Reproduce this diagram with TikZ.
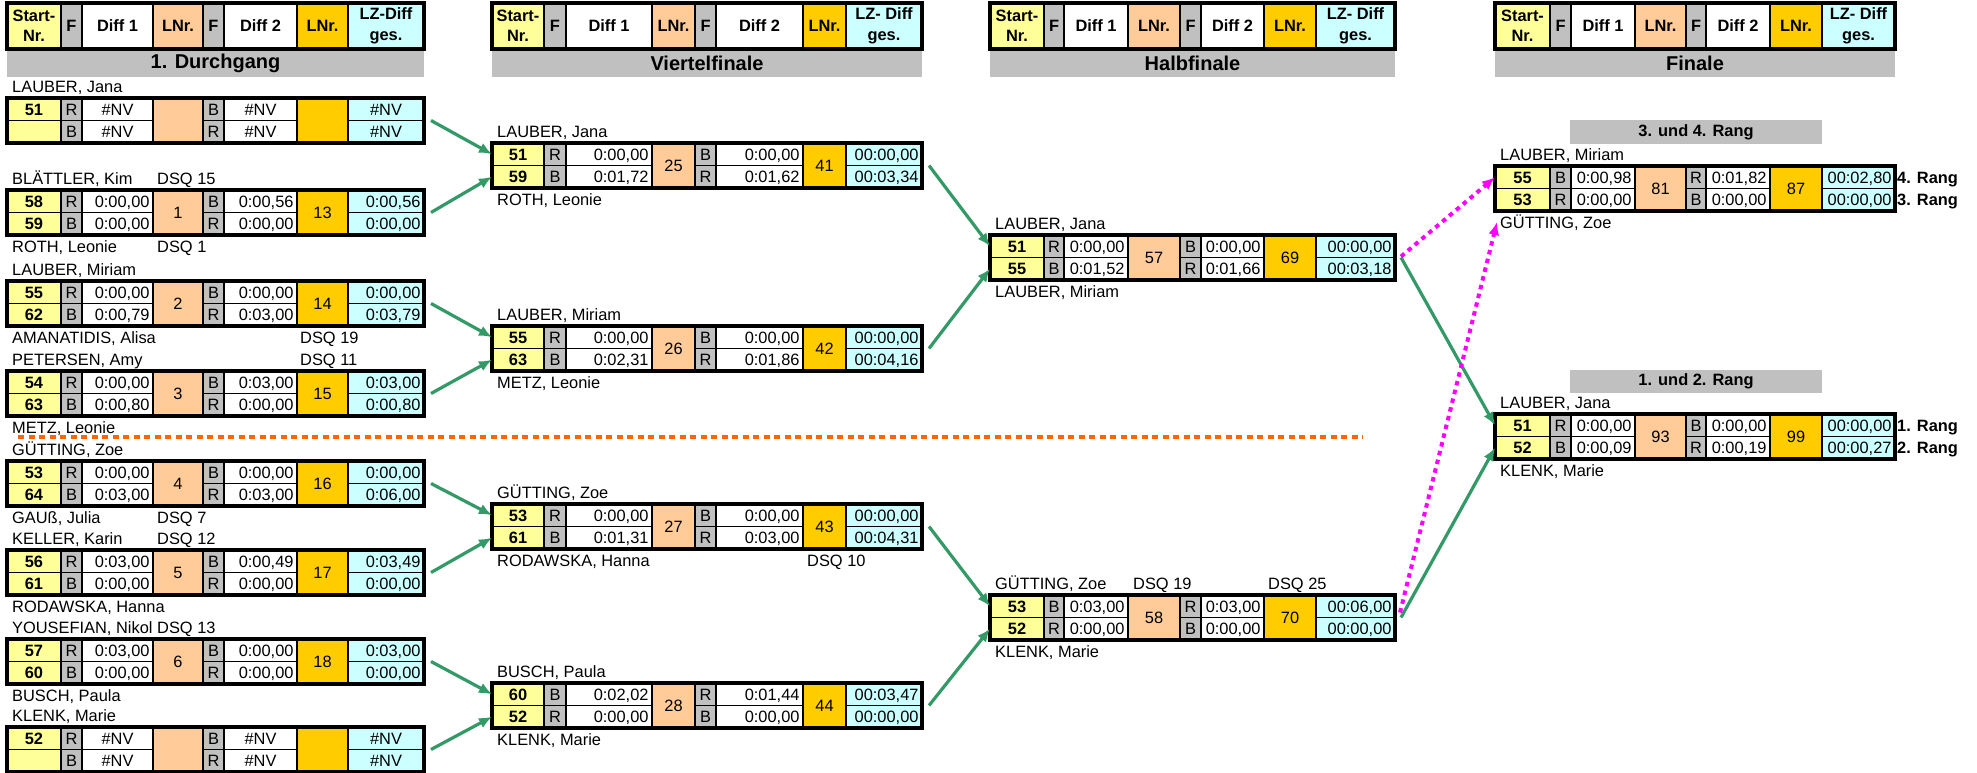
\documentclass[tikz,border=0pt]{standalone}
\usepackage{fontspec}
\setmainfont{Liberation Sans}
\usetikzlibrary{calc}
\usetikzlibrary{arrows.meta}

\definecolor{startyel}{HTML}{FFFF99}
\definecolor{fgray}{HTML}{C0C0C0}
\definecolor{lnrpeach}{HTML}{FFCC99}
\definecolor{lnrgold}{HTML}{FFCC00}
\definecolor{lzcyan}{HTML}{CCFFFF}
\definecolor{advgreen}{HTML}{339966}
\definecolor{losemag}{HTML}{FF00FF}
\definecolor{halforange}{HTML}{FF6600}

\newcommand{\fsz}{\fontsize{16.4}{20.5}\selectfont}

\tikzset{
  cellbox/.style={draw=black,line width=1.8pt,inner sep=0pt,outer sep=0pt},
  cv/.style={font=\fsz,text height=11.7pt,text depth=0pt},
  headcell/.style={font=\fsz\bfseries,align=center},
  rt/.style={text width=\tw pt,align=right},
  ctr/.style={},
  blockframe/.style={draw=black,line width=3.6pt,inner sep=0pt,outer sep=0pt},
  band/.style={fill=fgray,inner sep=0pt,outer sep=0pt,font=\fontsize{20}{24}\selectfont\bfseries},
  tx/.style={inner sep=0pt,font=\fsz,text height=11.7pt,text depth=0pt,anchor=west},
  dsq/.style={tx,fill=white},
  adv/.style={draw=advgreen,line width=3.2pt,-{Latex[length=13pt,width=11pt]}},
  lose/.style={draw=losemag,line width=4pt,dash pattern=on 4.5pt off 4.5pt,-{Latex[length=13pt,width=11pt]}},
  halfline/.style={draw=halforange,line width=4.2pt,dash pattern=on 6pt off 4.5pt},
}

% column edges of one round
\newcommand{\setcols}[9]{\def\xa{#1}\def\xb{#2}\def\xc{#3}\def\xd{#4}\def\xe{#5}\def\xf{#6}\def\xg{#7}\def\xh{#8}\def\xi{#9}}

% name, x1, x2, y1, y2, style, text
\newcommand{\cellat}[7]{%
  \pgfmathsetmacro\cw{#3-#2}\pgfmathsetmacro\ch{#5-#4}\pgfmathsetmacro\tw{#3-#2-7}%
  \node[cellbox,minimum width=\cw pt,minimum height=\ch pt,#6] (#1) at ({(#2+#3)/2},{(#4+#5)/2}) {#7};}

% name, band text, last column text
\newcommand{\headrow}[3]{%
  \pgfmathsetmacro\fw{\xi-\xa}%
  \node[band,minimum width=\fw pt,minimum height=28pt,anchor=north west] (#1-band) at (\xa,49) {#2};
  \cellat{#1-c1}{\xa}{\xb}{3}{49}{headcell,fill=startyel}{Start-\\Nr.}
  \cellat{#1-c2}{\xb}{\xc}{3}{49}{headcell,fill=fgray}{F}
  \cellat{#1-c3}{\xc}{\xd}{3}{49}{headcell,fill=white}{Diff 1}
  \cellat{#1-c4}{\xd}{\xe}{3}{49}{headcell,fill=lnrpeach}{LNr.}
  \cellat{#1-c5}{\xe}{\xf}{3}{49}{headcell,fill=fgray}{F}
  \cellat{#1-c6}{\xf}{\xg}{3}{49}{headcell,fill=white}{Diff 2}
  \cellat{#1-c7}{\xg}{\xh}{3}{49}{headcell,fill=lnrgold}{LNr.}
  \cellat{#1-c8}{\xh}{\xi}{3}{49}{headcell,fill=lzcyan}{#3}
  \node[blockframe,minimum width=\fw pt,minimum height=46pt,anchor=north west] (#1) at (\xa,3) {};}

% name, top, F first, F second, start 1, start 2, LNr 1, LNr 2
\newcommand{\bout}[8]{%
  \def\btop{#2}\pgfmathsetmacro\ym{#2+22.5}\pgfmathsetmacro\yb{#2+45}%
  \cellat{#1-s1}{\xa}{\xb}{#2}{\ym}{cv,fill=startyel,font=\fsz\bfseries}{#5}
  \cellat{#1-s2}{\xa}{\xb}{\ym}{\yb}{cv,fill=startyel,font=\fsz\bfseries}{#6}
  \cellat{#1-fa}{\xb}{\xc}{#2}{\ym}{cv,fill=fgray}{#3}
  \cellat{#1-fb}{\xb}{\xc}{\ym}{\yb}{cv,fill=fgray}{#4}
  \cellat{#1-l1}{\xd}{\xe}{#2}{\yb}{cv,fill=lnrpeach}{#7}
  \cellat{#1-fc}{\xe}{\xf}{#2}{\ym}{cv,fill=fgray}{#4}
  \cellat{#1-fd}{\xe}{\xf}{\ym}{\yb}{cv,fill=fgray}{#3}
  \cellat{#1-l2}{\xg}{\xh}{#2}{\yb}{cv,fill=lnrgold}{#8}}

% name, alignment, diff 1 (two), diff 2 (two), LZ (two)
\newcommand{\bvals}[8]{%
  \cellat{#1-a1}{\xc}{\xd}{\btop}{\ym}{cv,fill=white,#2}{#3}
  \cellat{#1-a2}{\xc}{\xd}{\ym}{\yb}{cv,fill=white,#2}{#4}
  \cellat{#1-b1}{\xf}{\xg}{\btop}{\ym}{cv,fill=white,#2}{#5}
  \cellat{#1-b2}{\xf}{\xg}{\ym}{\yb}{cv,fill=white,#2}{#6}
  \cellat{#1-z1}{\xh}{\xi}{\btop}{\ym}{cv,fill=lzcyan,#2}{#7}
  \cellat{#1-z2}{\xh}{\xi}{\ym}{\yb}{cv,fill=lzcyan,#2}{#8}
  \pgfmathsetmacro\fw{\xi-\xa}%
  \node[blockframe,minimum width=\fw pt,minimum height=45pt,anchor=north west] (#1) at (\xa,\btop) {};}

% name, above, below
\newcommand{\bnames}[3]{%
  \node[tx] (#1-n1) at ([xshift=5pt,yshift=11pt]#1.north west) {#2};
  \if\relax\detokenize{#3}\relax\else
  \node[tx] (#1-n2) at ([xshift=5pt,yshift=-12pt]#1.south west) {#3};\fi}

\begin{document}
\begin{tikzpicture}[x=1pt,y=-1pt]
  \path[use as bounding box,fill=white] (0,0) rectangle (1977,773);

  % 1. Durchgang
  \setcols{7}{61}{82}{153}{203}{224}{297}{348}{424}
  \headrow{hdg}{1. Durchgang}{LZ-Diff\\ges.}
  \bout{d1}{98}{R}{B}{51}{}{}{}
  \bvals{d1}{ctr}{\#NV}{\#NV}{\#NV}{\#NV}{\#NV}{\#NV}
  \bnames{d1}{LAUBER, Jana}{}
  \bout{d2}{190}{R}{B}{58}{59}{1}{13}
  \bvals{d2}{rt}{0:00,00}{0:00,00}{0:00,56}{0:00,00}{0:00,56}{0:00,00}
  \bnames{d2}{BLÄTTLER, Kim}{ROTH, Leonie}
  \node[dsq] (d2-q1) at ([xshift=4pt]d2-l1.west |- d2-n1) {DSQ 15};
  \node[dsq] (d2-q2) at ([xshift=4pt]d2-l1.west |- d2-n2) {DSQ 1};
  \bout{d3}{281}{R}{B}{55}{62}{2}{14}
  \bvals{d3}{rt}{0:00,00}{0:00,79}{0:00,00}{0:03,00}{0:00,00}{0:03,79}
  \bnames{d3}{LAUBER, Miriam}{AMANATIDIS, Alisa}
  \node[dsq] (d3-q2) at ([xshift=3pt]d3-l2.west |- d3-n2) {DSQ 19};
  \bout{d4}{371}{R}{B}{54}{63}{3}{15}
  \bvals{d4}{rt}{0:00,00}{0:00,80}{0:03,00}{0:00,00}{0:03,00}{0:00,80}
  \bnames{d4}{PETERSEN, Amy}{METZ, Leonie}
  \node[dsq] (d4-q1) at ([xshift=3pt]d4-l2.west |- d4-n1) {DSQ 11};
  \bout{d5}{461}{R}{B}{53}{64}{4}{16}
  \bvals{d5}{rt}{0:00,00}{0:03,00}{0:00,00}{0:03,00}{0:00,00}{0:06,00}
  \bnames{d5}{GÜTTING, Zoe}{GAUß, Julia}
  \node[dsq] (d5-q2) at ([xshift=4pt]d5-l1.west |- d5-n2) {DSQ 7};
  \bout{d6}{550}{R}{B}{56}{61}{5}{17}
  \bvals{d6}{rt}{0:03,00}{0:00,00}{0:00,49}{0:00,00}{0:03,49}{0:00,00}
  \bnames{d6}{KELLER, Karin}{RODAWSKA, Hanna}
  \node[dsq] (d6-q1) at ([xshift=4pt]d6-l1.west |- d6-n1) {DSQ 12};
  \bout{d7}{639}{R}{B}{57}{60}{6}{18}
  \bvals{d7}{rt}{0:03,00}{0:00,00}{0:00,00}{0:00,00}{0:03,00}{0:00,00}
  \bnames{d7}{YOUSEFIAN, Nikol}{BUSCH, Paula}
  \node[dsq] (d7-q1) at ([xshift=4pt]d7-l1.west |- d7-n1) {DSQ 13};
  \bout{d8}{727}{R}{B}{52}{}{}{}
  \bvals{d8}{ctr}{\#NV}{\#NV}{\#NV}{\#NV}{\#NV}{\#NV}
  \bnames{d8}{KLENK, Marie}{}

  % Viertelfinale
  \setcols{492}{544}{566}{652}{695}{716}{803}{846}{922}
  \headrow{hvf}{Viertelfinale}{LZ- Diff\\ges.}
  \bout{q1}{143}{R}{B}{51}{59}{25}{41}
  \bvals{q1}{rt}{0:00,00}{0:01,72}{0:00,00}{0:01,62}{00:00,00}{00:03,34}
  \bnames{q1}{LAUBER, Jana}{ROTH, Leonie}
  \bout{q2}{326}{R}{B}{55}{63}{26}{42}
  \bvals{q2}{rt}{0:00,00}{0:02,31}{0:00,00}{0:01,86}{00:00,00}{00:04,16}
  \bnames{q2}{LAUBER, Miriam}{METZ, Leonie}
  \bout{q3}{504}{R}{B}{53}{61}{27}{43}
  \bvals{q3}{rt}{0:00,00}{0:01,31}{0:00,00}{0:03,00}{00:00,00}{00:04,31}
  \bnames{q3}{GÜTTING, Zoe}{RODAWSKA, Hanna}
  \node[dsq] (q3-q2) at ([xshift=4pt]q3-l2.west |- q3-n2) {DSQ 10};
  \bout{q4}{683}{B}{R}{60}{52}{28}{44}
  \bvals{q4}{rt}{0:02,02}{0:00,00}{0:01,44}{0:00,00}{00:03,47}{00:00,00}
  \bnames{q4}{BUSCH, Paula}{KLENK, Marie}

  % Halbfinale
  \setcols{990}{1044}{1064}{1128}{1180}{1201}{1264}{1316}{1395}
  \headrow{hhf}{Halbfinale}{LZ- Diff\\ges.}
  \bout{s1}{235}{R}{B}{51}{55}{57}{69}
  \bvals{s1}{rt}{0:00,00}{0:01,52}{0:00,00}{0:01,66}{00:00,00}{00:03,18}
  \bnames{s1}{LAUBER, Jana}{LAUBER, Miriam}
  \bout{s2}{595}{B}{R}{53}{52}{58}{70}
  \bvals{s2}{rt}{0:03,00}{0:00,00}{0:03,00}{0:00,00}{00:06,00}{00:00,00}
  \bnames{s2}{GÜTTING, Zoe}{KLENK, Marie}
  \node[dsq] (s2-q1) at ([xshift=5pt]s2-l1.west |- s2-n1) {DSQ 19};
  \node[dsq] (s2-q3) at ([xshift=4pt]s2-l2.west |- s2-n1) {DSQ 25};

  % Finale
  \setcols{1495}{1550}{1571}{1635}{1686}{1706}{1770}{1822}{1895}
  \headrow{hfi}{Finale}{LZ- Diff\\ges.}
  \node[band,font=\fsz\bfseries,minimum width=252pt,minimum height=24pt] (f1-band) at (1696,132) {3. und 4. Rang};
  \bout{f1}{166}{B}{R}{55}{53}{81}{87}
  \bvals{f1}{rt}{0:00,98}{0:00,00}{0:01,82}{0:00,00}{00:02,80}{00:00,00}
  \bnames{f1}{LAUBER, Miriam}{GÜTTING, Zoe}
  \node[tx,font=\fsz\bfseries] (f1-r1) at ([xshift=2pt]f1-z1.east) {4. Rang};
  \node[tx,font=\fsz\bfseries] (f1-r2) at ([xshift=2pt]f1-z2.east) {3. Rang};
  \node[band,font=\fsz\bfseries,minimum width=252pt,minimum height=23pt] (f2-band) at (1696,381.5) {1. und 2. Rang};
  \bout{f2}{414}{R}{B}{51}{52}{93}{99}
  \bvals{f2}{rt}{0:00,00}{0:00,09}{0:00,00}{0:00,19}{00:00,00}{00:00,27}
  \bnames{f2}{LAUBER, Jana}{KLENK, Marie}
  \node[tx,font=\fsz\bfseries] (f2-r1) at ([xshift=2pt]f2-z1.east) {1. Rang};
  \node[tx,font=\fsz\bfseries] (f2-r2) at ([xshift=2pt]f2-z2.east) {2. Rang};

  % Pfeile
  \draw[adv] ([xshift=7pt]d1.east) -- (q1-s1.west);
  \draw[adv] ([xshift=7pt]d2.east) -- (q1-s2.west);
  \draw[adv] ([xshift=7pt]d3.east) -- (q2-s1.west);
  \draw[adv] ([xshift=7pt]d4.east) -- (q2-s2.west);
  \draw[adv] ([xshift=7pt]d5.east) -- (q3-s1.west);
  \draw[adv] ([xshift=7pt]d6.east) -- (q3-s2.west);
  \draw[adv] ([xshift=7pt]d7.east) -- (q4-s1.west);
  \draw[adv] ([xshift=7pt]d8.east) -- (q4-s2.west);
  \draw[adv] ([xshift=7pt]q1.east) -- (s1-s1.west);
  \draw[adv] ([xshift=7pt]q2.east) -- (s1-s2.west);
  \draw[adv] ([xshift=7pt]q3.east) -- (s2-s1.west);
  \draw[adv] ([xshift=7pt]q4.east) -- (s2-s2.west);
  \draw[adv] ([xshift=6pt]s1.east) -- (f2-s1.west);
  \draw[adv] ([xshift=6pt]s2.east) -- (f2-s2.west);
  \coordinate (f1-in) at ([xshift=2pt,yshift=-11pt]f1.south west);
  \draw[lose] ([xshift=6pt,yshift=1pt]s1.east) -- (f1-s1.west);
  \draw[lose] ([xshift=5pt,yshift=5pt]s2.east) -- (f1-in);

  % Trennlinie
  \coordinate (half-l) at (18,437);
  \coordinate (half-r) at (1363,437);
  \draw[halfline] (half-l) -- (half-r);
\end{tikzpicture}
\end{document}
